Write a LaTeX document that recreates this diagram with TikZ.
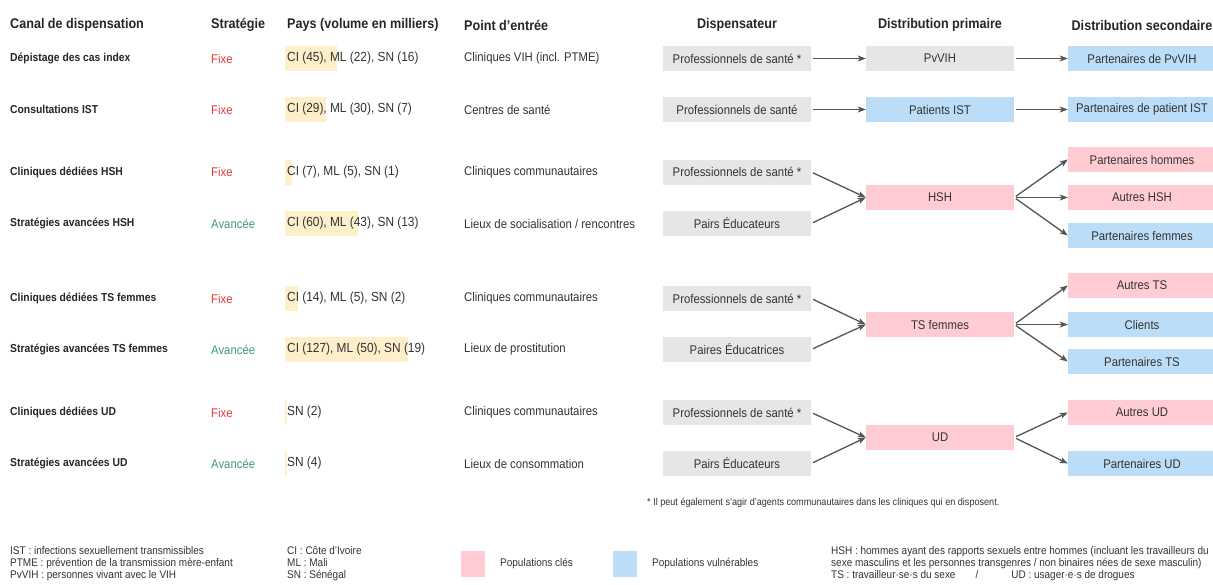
\documentclass[tikz,border=0pt]{standalone}
\usepackage{fontspec}
\setmainfont{Liberation Sans}[FakeStretch=0.9]
\usetikzlibrary{arrows.meta}

\definecolor{txtgray}{HTML}{333333}
\definecolor{boxgray}{HTML}{E6E6E6}
\definecolor{keypink}{HTML}{FFCCD3}
\definecolor{vulblue}{HTML}{BCDDF7}
\definecolor{barcream}{HTML}{FDEFC9}
\definecolor{fixred}{HTML}{E03A3E}
\definecolor{avgreen}{HTML}{3D9B7E}
\definecolor{arrowgray}{HTML}{555555}

\tikzset{
  hdr/.style={inner sep=0pt, font=\fontsize{14}{16}\selectfont\bfseries, text=black!85},
  canal/.style={anchor=west, inner sep=0pt, font=\fontsize{11.5}{14}\selectfont\bfseries, text=black!85},
  cell/.style={anchor=west, inner sep=0pt, font=\fontsize{12.6}{14}\selectfont, text=txtgray},
  paysval/.style={cell, font=\fontsize{13.2}{14}\selectfont},
  fixe/.style={cell, text=fixred},
  avancee/.style={cell, text=avgreen},
  actor/.style={minimum width=148pt, minimum height=25pt, inner sep=0pt, font=\fontsize{12.6}{14}\selectfont, text=txtgray},
  dispbox/.style={actor, fill=boxgray},
  keybox/.style={actor, fill=keypink},
  vulbox/.style={actor, fill=vulblue},
  flow/.style={draw=arrowgray, line width=1.3pt, shorten <=2pt, -{Stealth[length=8pt,width=6pt,inset=2pt]}},
  note/.style={anchor=west, inner sep=0pt, align=left, font=\fontsize{11.1}{12}\selectfont, text=txtgray},
}

\begin{document}
\begin{tikzpicture}[scale=1.000000,x=1pt,y=-1pt]
\useasboundingbox (0,0) rectangle (1213,584);
\fill[white] (0,0) rectangle (1213,584);
% Drawing column headers
\node[hdr, anchor=west] (hcanal) at (10,25) {Canal de dispensation};
\node[hdr, anchor=west] (hstrat) at (211,25) {Stratégie};
\node[hdr, anchor=west] (hpays) at (287,25) {Pays (volume en milliers)};
\node[hdr, anchor=west] (hpoint) at (464,25) {Point d'entrée};
\node[hdr] (hdisp) at (737,25) {Dispensateur};
\node[hdr] (hprim) at (940,25) {Distribution primaire};
\node[hdr] (hsec) at (1142,25) {Distribution secondaire};
% Drawing country bars
\fill[barcream] (285,46) rectangle (337,71);
\fill[barcream] (285,97) rectangle (326,122);
\fill[barcream] (285,159.5) rectangle (292,184.5);
\fill[barcream] (285,211) rectangle (358,236);
\fill[barcream] (285,286) rectangle (298,311);
\fill[barcream] (285,337) rectangle (408,362);
\fill[barcream] (285,400) rectangle (287,425);
\fill[barcream] (285,451) rectangle (287,476);
% Row 1: Dépistage des cas index
\node[canal] (c1) at (10,58.5) {Dépistage des cas index};
\node[fixe] (t1) at (211,58.5) {Fixe};
\node[paysval] (v1) at (287,58.5) {CI (45), ML (22), SN (16)};
\node[cell] (e1) at (464,58.5) {Cliniques VIH (incl. PTME)};
\node[dispbox] (d1) at (737,58.5) {Professionnels de santé *};
\node[dispbox] (p1) at (940,58.5) {PvVIH};
\node[vulbox] (s1) at (1142,58.5) {Partenaires de PvVIH};
\draw[flow] (d1.east) -- (p1.west);
\draw[flow] (p1.east) -- (s1.west);
% Row 2: Consultations IST
\node[canal] (c2) at (10,109.5) {Consultations IST};
\node[fixe] (t2) at (211,109.5) {Fixe};
\node[paysval] (v2) at (287,109.5) {CI (29), ML (30), SN (7)};
\node[cell] (e2) at (464,109.5) {Centres de santé};
\node[dispbox] (d2) at (737,109.5) {Professionnels de santé};
\node[vulbox] (p2) at (940,109.5) {Patients IST};
\node[vulbox] (s2) at (1142,109.5) {Partenaires de patient IST};
\draw[flow] (d2.east) -- (p2.west);
\draw[flow] (p2.east) -- (s2.west);
% Rows 3-4: HSH
\node[canal] (c3) at (10,172) {Cliniques dédiées HSH};
\node[fixe] (t3) at (211,172) {Fixe};
\node[paysval] (v3) at (287,172) {CI (7), ML (5), SN (1)};
\node[cell] (e3) at (464,172) {Cliniques communautaires};
\node[canal] (c4) at (10,223.5) {Stratégies avancées HSH};
\node[avancee] (t4) at (211,223.5) {Avancée};
\node[paysval] (v4) at (287,223.5) {CI (60), ML (43), SN (13)};
\node[cell] (e4) at (464,223.5) {Lieux de socialisation / rencontres};
\node[dispbox] (d3) at (737,172) {Professionnels de santé *};
\node[dispbox] (d4) at (737,223.5) {Pairs Éducateurs};
\node[keybox] (p3) at (940,197.5) {HSH};
\node[keybox] (s3a) at (1142,159.5) {Partenaires hommes};
\node[keybox] (s3b) at (1142,197.5) {Autres HSH};
\node[vulbox] (s3c) at (1142,235.5) {Partenaires femmes};
\draw[flow] (d3.east) -- (p3.west);
\draw[flow] (d4.east) -- (p3.west);
\draw[flow] (p3.east) -- (s3a.west);
\draw[flow] (p3.east) -- (s3b.west);
\draw[flow] (p3.east) -- (s3c.west);
% Rows 5-6: TS femmes
\node[canal] (c5) at (10,298.5) {Cliniques dédiées TS femmes};
\node[fixe] (t5) at (211,298.5) {Fixe};
\node[paysval] (v5) at (287,298.5) {CI (14), ML (5), SN (2)};
\node[cell] (e5) at (464,298.5) {Cliniques communautaires};
\node[canal] (c6) at (10,349.5) {Stratégies avancées TS femmes};
\node[avancee] (t6) at (211,349.5) {Avancée};
\node[paysval] (v6) at (287,349.5) {CI (127), ML (50), SN (19)};
\node[cell] (e6) at (464,349.5) {Lieux de prostitution};
\node[dispbox] (d5) at (737,298.5) {Professionnels de santé *};
\node[dispbox] (d6) at (737,349.5) {Paires Éducatrices};
\node[keybox] (p5) at (940,324.5) {TS femmes};
\node[keybox] (s5a) at (1142,285.5) {Autres TS};
\node[vulbox] (s5b) at (1142,324.5) {Clients};
\node[vulbox] (s5c) at (1142,361.5) {Partenaires TS};
\draw[flow] (d5.east) -- (p5.west);
\draw[flow] (d6.east) -- (p5.west);
\draw[flow] (p5.east) -- (s5a.west);
\draw[flow] (p5.east) -- (s5b.west);
\draw[flow] (p5.east) -- (s5c.west);
% Rows 7-8: UD
\node[canal] (c7) at (10,412.5) {Cliniques dédiées UD};
\node[fixe] (t7) at (211,412.5) {Fixe};
\node[paysval] (v7) at (287,412.5) {SN (2)};
\node[cell] (e7) at (464,412.5) {Cliniques communautaires};
\node[canal] (c8) at (10,463.5) {Stratégies avancées UD};
\node[avancee] (t8) at (211,463.5) {Avancée};
\node[paysval] (v8) at (287,463.5) {SN (4)};
\node[cell] (e8) at (464,463.5) {Lieux de consommation};
\node[dispbox] (d7) at (737,412.5) {Professionnels de santé *};
\node[dispbox] (d8) at (737,463.5) {Pairs Éducateurs};
\node[keybox] (p7) at (940,437.5) {UD};
\node[keybox] (s7a) at (1142,412.5) {Autres UD};
\node[vulbox] (s7b) at (1142,463.5) {Partenaires UD};
\draw[flow] (d7.east) -- (p7.west);
\draw[flow] (d8.east) -- (p7.west);
\draw[flow] (p7.east) -- (s7a.west);
\draw[flow] (p7.east) -- (s7b.west);
% Done with rows; drawing footnote and legend
\node[note, font=\fontsize{10.1}{12}\selectfont] (star) at (647,503) {* Il peut également s'agir d'agents communautaires dans les cliniques qui en disposent.};
\node[note] (abbr) at (10,564) {IST : infections sexuellement transmissibles\\PTME : prévention de la transmission mère-enfant\\PvVIH : personnes vivant avec le VIH};
\node[note] (pays) at (287,564) {CI : Côte d'Ivoire\\ML : Mali\\SN : Sénégal};
\fill[keypink] (461,551) rectangle (485,577);
\node[note] (lkey) at (500,564) {Populations clés};
\fill[vulblue] (613,551) rectangle (637,577);
\node[note] (lvul) at (652,564) {Populations vulnérables};
\node[note] (pops) at (831,564) {HSH : hommes ayant des rapports sexuels entre hommes (incluant les travailleurs du\\sexe masculins et les personnes transgenres / non binaires nées de sexe masculin)\\TS : travailleur·se·s du sexe\hspace{20pt}/\hspace{33pt}UD : usager·e·s de drogues};
% Done with legend
\end{tikzpicture}
\end{document}
